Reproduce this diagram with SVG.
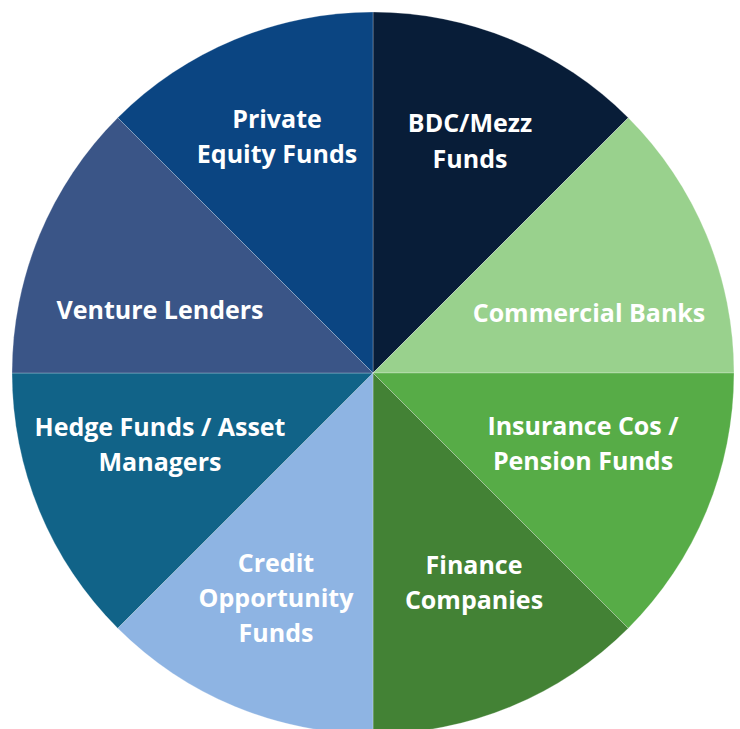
<svg xmlns="http://www.w3.org/2000/svg" width="740" height="729" viewBox="0 0 740 729">
<style>
.s{stroke:#ffffff;stroke-opacity:0.25;stroke-width:1}
.t{font-family:"Open Sans","Noto Sans","Liberation Sans",sans-serif;font-weight:bold;font-size:25px;fill:#ffffff;text-anchor:middle}
</style>
<rect width="740" height="729" fill="#ffffff"/>
<g id="bdc">
<path class="s" fill="#081d38" d="M373,373 L373,12 A361,361 0 0 1 628.3,117.7 Z"/>
<text class="t" x="470" y="132">BDC/Mezz</text>
<text class="t" x="470" y="168">Funds</text>
</g>
<g id="commercial-banks">
<path class="s" fill="#99d18d" d="M373,373 L628.3,117.7 A361,361 0 0 1 734,373 Z"/>
<text class="t" x="589" y="322">Commercial Banks</text>
</g>
<g id="insurance">
<path class="s" fill="#57ac47" d="M373,373 L734,373 A361,361 0 0 1 628.3,628.3 Z"/>
<text class="t" x="583" y="435">Insurance Cos /</text>
<text class="t" x="583" y="470">Pension Funds</text>
</g>
<g id="finance">
<path class="s" fill="#438235" d="M373,373 L628.3,628.3 A361,361 0 0 1 373,734 Z"/>
<text class="t" x="474" y="574">Finance</text>
<text class="t" x="474" y="609">Companies</text>
</g>
<g id="credit">
<path class="s" fill="#8eb4e3" d="M373,373 L373,734 A361,361 0 0 1 117.7,628.3 Z"/>
<text class="t" x="276" y="572">Credit</text>
<text class="t" x="276" y="607">Opportunity</text>
<text class="t" x="276" y="642">Funds</text>
</g>
<g id="hedge">
<path class="s" fill="#116388" d="M373,373 L117.7,628.3 A361,361 0 0 1 12,373 Z"/>
<text class="t" x="160" y="436">Hedge Funds / Asset</text>
<text class="t" x="160" y="471">Managers</text>
</g>
<g id="venture">
<path class="s" fill="#3a5587" d="M373,373 L12,373 A361,361 0 0 1 117.7,117.7 Z"/>
<text class="t" x="160" y="319">Venture Lenders</text>
</g>
<g id="private-equity">
<path class="s" fill="#0b4582" d="M373,373 L117.7,117.7 A361,361 0 0 1 373,12 Z"/>
<text class="t" x="277" y="128">Private</text>
<text class="t" x="277" y="163">Equity Funds</text>
</g>
<g id="connectors"></g>
</svg>
